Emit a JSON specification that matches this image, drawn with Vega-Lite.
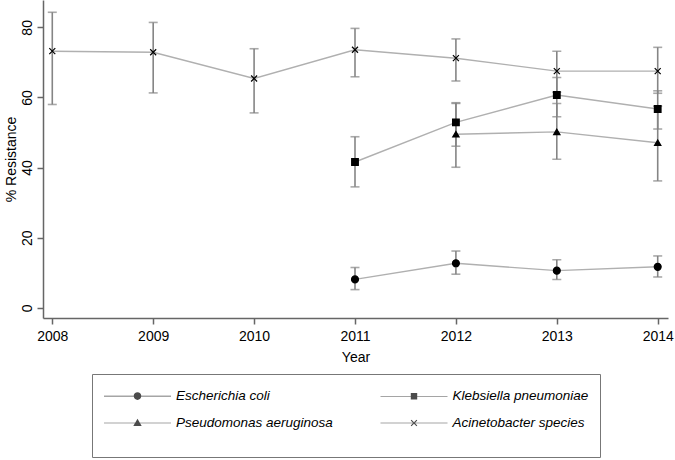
{
  "$schema": "https://vega.github.io/schema/vega-lite/v6.json",
  "width": 625,
  "height": 318,
  "autosize": "none",
  "padding": {"left": 43, "top": 0, "right": 7, "bottom": 142},
  "background": "white",
  "config": {
    "view": {"stroke": null},
    "font": "Liberation Sans",
    "axis": {
      "grid": false,
      "domainColor": "#666666",
      "domainWidth": 1.5,
      "tickColor": "#666666",
      "tickWidth": 1.5,
      "tickSize": 6,
      "labelFont": "Liberation Sans",
      "labelFontSize": 14,
      "labelColor": "#000000",
      "titleFont": "Liberation Sans",
      "titleFontSize": 14,
      "titleFontWeight": "normal",
      "titleColor": "#000000"
    },
    "axisX": {"labelPadding": 5, "titlePadding": 7, "labelFlush": false}
  },
  "data": {
    "values": [
      {"species": "Escherichia coli", "year": 2011, "value": 8.1, "lo": 5.2, "hi": 11.5},
      {"species": "Escherichia coli", "year": 2012, "value": 12.7, "lo": 9.6, "hi": 16.2},
      {"species": "Escherichia coli", "year": 2013, "value": 10.6, "lo": 8.1, "hi": 13.7},
      {"species": "Escherichia coli", "year": 2014, "value": 11.7, "lo": 8.8, "hi": 14.8},
      {"species": "Klebsiella pneumoniae", "year": 2011, "value": 41.6, "lo": 34.5, "hi": 48.8},
      {"species": "Klebsiella pneumoniae", "year": 2012, "value": 52.9, "lo": 46.1, "hi": 58.3},
      {"species": "Klebsiella pneumoniae", "year": 2013, "value": 60.7, "lo": 54.5, "hi": 65.7},
      {"species": "Klebsiella pneumoniae", "year": 2014, "value": 56.7, "lo": 51.0, "hi": 61.9},
      {"species": "Pseudomonas aeruginosa", "year": 2012, "value": 49.5, "lo": 40.1, "hi": 58.5},
      {"species": "Pseudomonas aeruginosa", "year": 2013, "value": 50.2, "lo": 42.4, "hi": 58.3},
      {"species": "Pseudomonas aeruginosa", "year": 2014, "value": 47.1, "lo": 36.2, "hi": 57.5},
      {"species": "Acinetobacter species", "year": 2008, "value": 73.2, "lo": 58.0, "hi": 84.3},
      {"species": "Acinetobacter species", "year": 2009, "value": 72.9, "lo": 61.3, "hi": 81.4},
      {"species": "Acinetobacter species", "year": 2010, "value": 65.4, "lo": 55.6, "hi": 73.9},
      {"species": "Acinetobacter species", "year": 2011, "value": 73.6, "lo": 65.9, "hi": 79.7},
      {"species": "Acinetobacter species", "year": 2012, "value": 71.2, "lo": 64.7, "hi": 76.7},
      {"species": "Acinetobacter species", "year": 2013, "value": 67.5, "lo": 61.5, "hi": 73.2},
      {"species": "Acinetobacter species", "year": 2014, "value": 67.5, "lo": 61.2, "hi": 74.3}
    ]
  },
  "encoding": {
    "x": {
      "field": "year", "type": "quantitative",
      "scale": {"domain": [2007.908, 2014.102], "nice": false, "zero": false},
      "axis": {"values": [2008, 2009, 2010, 2011, 2012, 2013, 2014], "format": "d", "title": "Year"}
    }
  },
  "layer": [
    {
      "mark": {"type": "line", "color": "#b0b0b0", "strokeWidth": 1.4},
      "encoding": {
        "y": {
          "field": "value", "type": "quantitative",
          "scale": {"domain": [-2.9, 87.8], "nice": false, "zero": false},
          "axis": {"values": [0, 20, 40, 60, 80], "title": "% Resistance", "labelAngle": -90, "labelPadding": 3, "titlePadding": 2}
        },
        "detail": {"field": "species"}
      }
    },
    {
      "mark": {"type": "rule", "color": "#858585", "strokeWidth": 1.6},
      "encoding": {
        "y": {"field": "lo", "type": "quantitative"},
        "y2": {"field": "hi"}
      }
    },
    {
      "mark": {"type": "tick", "color": "#858585", "thickness": 1.6, "size": 9, "orient": "horizontal"},
      "encoding": {"y": {"field": "lo", "type": "quantitative"}}
    },
    {
      "mark": {"type": "tick", "color": "#858585", "thickness": 1.6, "size": 9, "orient": "horizontal"},
      "encoding": {"y": {"field": "hi", "type": "quantitative"}}
    },
    {
      "mark": {"type": "point", "filled": true, "fill": "#000000", "stroke": "#000000", "strokeWidth": 1.2, "opacity": 1},
      "encoding": {
        "y": {"field": "value", "type": "quantitative"},
        "shape": {
          "field": "species", "type": "nominal",
          "scale": {
            "domain": ["Escherichia coli", "Klebsiella pneumoniae", "Pseudomonas aeruginosa", "Acinetobacter species"],
            "range": ["circle", "square", "triangle-up", "M-1,-1L1,1M-1,1L1,-1"]
          },
          "legend": null
        },
        "size": {
          "field": "species", "type": "nominal",
          "scale": {
            "domain": ["Escherichia coli", "Klebsiella pneumoniae", "Pseudomonas aeruginosa", "Acinetobacter species"],
            "range": [48, 36, 42, 36]
          },
          "legend": null
        }
      }
    },
    {
      "transform": [{"filter": "datum.year < 0"}],
      "mark": {"type": "point", "filled": true, "fill": "#000000", "strokeWidth": 0},
      "encoding": {
        "y": {"field": "value", "type": "quantitative"},
        "shape": {
          "field": "species", "type": "nominal",
          "scale": {
            "domain": ["Escherichia coli", "Klebsiella pneumoniae", "Pseudomonas aeruginosa", "Acinetobacter species"],
            "range": [
              "M-1,-0.03L5.7,-0.03L5.7,0.03L-1,0.03ZM1.97,0A0.38,0.38,0,1,1,2.73,0A0.38,0.38,0,1,1,1.97,0Z",
              "M-1,-0.03L5.7,-0.03L5.7,0.03L-1,0.03ZM2.03,-0.32L2.67,-0.32L2.67,0.32L2.03,0.32Z",
              "M-1,-0.03L5.7,-0.03L5.7,0.03L-1,0.03ZM2.35,-0.42L2.77,0.3L1.93,0.3Z",
              "M-1,-0.03L5.7,-0.03L5.7,0.03L-1,0.03ZM2.02,-0.25L2.6,0.33L2.68,0.25L2.1,-0.33ZM2.1,0.33L2.68,-0.25L2.6,-0.33L2.02,0.25Z"
            ]
          },
          "legend": {
            "orient": "none",
            "legendX": 49,
            "legendY": 374,
            "direction": "horizontal",
            "columns": 2,
            "title": " ",
            "titleOrient": "bottom",
            "titleFontSize": 14,
            "titlePadding": 2,
            "strokeColor": "#777777",
            "padding": 11,
            "symbolSize": 400,
            "labelFont": "Liberation Sans",
            "labelFontSize": 13.5,
            "labelFontStyle": "italic",
            "labelColor": "#000000",
            "labelOffset": 51,
            "columnPadding": 44.5,
            "rowPadding": 9,
            "labelLimit": 400
          }
        }
      }
    }
  ],
  "resolve": {"scale": {"shape": "independent"}}
}
